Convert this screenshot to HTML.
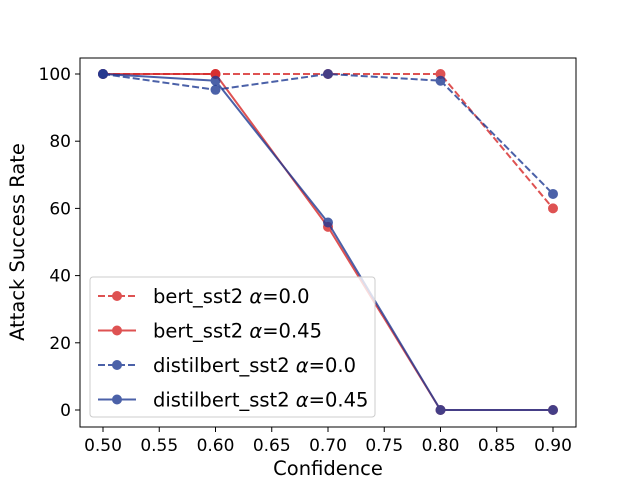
<!DOCTYPE html>
<html><head><meta charset="utf-8"><style>
body{margin:0;background:#fff}
svg text{font-family:"DejaVu Sans","Liberation Sans",sans-serif;fill:#000}
</style></head><body>
<svg id="c" width="640" height="480" xmlns="http://www.w3.org/2000/svg">
<rect x="80" y="58" width="496" height="369" fill="#fff" stroke="#000" stroke-width="1"/>
<g id="axes"></g><g id="series"></g>
<text x="328" y="475" font-size="19.5" text-anchor="middle">Confidence</text>
<text transform="translate(24,242) rotate(-90)" font-size="19.5" text-anchor="middle">Attack Success Rate</text>
<g>
<rect x="90" y="277" width="285" height="140" rx="3" fill="#fff" fill-opacity="0.8" stroke="#ccc"/>
<g id="leg"></g>
</g>
</svg>
<script>
const xCats=[0.5,0.6,0.7,0.8,0.9];
const bertA0=[100,100,100,100,60];
const bertA45=[100,100,54.5,0,0];
const distA0=[100,95.3,100,98,64.3];
const distA45=[100,98,55.8,0,0];
const xTicks=[0.5,0.55,0.6,0.65,0.7,0.75,0.8,0.85,0.9];
const yTicks=[0,20,40,60,80,100];
const names=["bert_sst2","bert_sst2","distilbert_sst2","distilbert_sst2"];
const alphas=["0.0","0.45","0.0","0.45"];
const X=v=>103+(v-0.5)*1125;
const Y=v=>410-v*3.36;
const NS="http://www.w3.org/2000/svg";
function mk(t,a,p){const e=document.createElementNS(NS,t);for(const k in a)e.setAttribute(k,a[k]);p.appendChild(e);return e;}
const ax=document.getElementById('axes');
xTicks.forEach(t=>{const g=mk('g',{},ax);


mk('line',{x1:X(t),x2:X(t),y1:427,y2:432,stroke:'#000'},g);
const tx=mk('text',{x:X(t),y:451,'font-size':17,'text-anchor':'middle'},g);tx.textContent=t.toFixed(2);});
yTicks.forEach(t=>{const g=mk('g',{},ax);


mk('line',{x1:75,x2:80,y1:Y(t),y2:Y(t),stroke:'#000'},g);
const tx=mk('text',{x:71,y:Y(t)+6,'font-size':17,'text-anchor':'end'},g);tx.textContent=t;});
const red='#d62728',blue='#1f3a93';
const series=[[bertA0,red,true,'series-bert-a0'],[bertA45,red,false,'series-bert-a45'],[distA0,blue,true,'series-distilbert-a0'],[distA45,blue,false,'series-distilbert-a45']];
const sg=document.getElementById('series'),lg=document.getElementById('leg');
series.forEach((s,i)=>{const g=mk('g',{opacity:0.8},sg);


mk('polyline',{points:s[0].map((v,j)=>X(xCats[j])+','+Y(v)).join(' '),fill:'none',stroke:s[1],'stroke-width':2,'stroke-dasharray':s[2]?'7 3':'none'},g);
s[0].forEach((v,j)=>mk('circle',{cx:X(xCats[j]),cy:Y(v),r:5,fill:s[1]},g));
const ly=296+i*34.5;const e=mk('g',{},lg);


const h=mk('g',{opacity:0.8},e);
mk('line',{x1:98,x2:136,y1:ly,y2:ly,stroke:s[1],'stroke-width':2,'stroke-dasharray':s[2]?'7 3':'none'},h);
mk('circle',{cx:117,cy:ly,r:5,fill:s[1]},h);
const t=mk('text',{x:153,y:ly+7,'font-size':19.5},e);
t.innerHTML=names[i]+' <tspan font-style="italic">α</tspan>='+alphas[i];});
</script>
</body></html>
